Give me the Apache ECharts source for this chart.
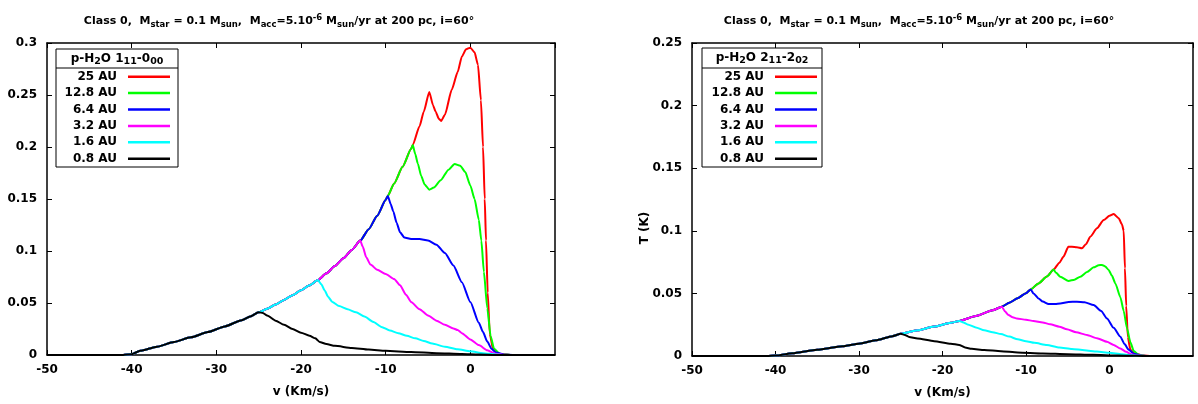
<!DOCTYPE html>
<html>
<head>
<meta charset="utf-8">
<script src="https://cdn.jsdelivr.net/npm/echarts@6/dist/echarts.min.js"></script>
<style>
html,body{margin:0;padding:0;background:#fff;}
#chart{width:1198px;height:404px;}
</style>
</head>
<body>
<div id="chart"></div>
<script>
// ---------- data ----------
const seriesNames = ['25 AU', '12.8 AU', '6.4 AU', '3.2 AU', '1.6 AU', '0.8 AU'];
const seriesColors = ['#ff0000', '#00ff00', '#0000ff', '#ff00ff', '#00ffff', '#000000'];

// Left panel: p-H2O 1_11-0_00, shared rising edge (v in km/s, T in K)
const riseLeft = [[-50,0],[-45,0],[-41,0],[-40,0.0008],[-39,0.004],[-37,0.008],[-35,0.0125],[-33,0.017],[-31,0.022],[-29,0.0275],[-27,0.0335],[-26,0.037],[-25,0.041],[-24,0.0445],[-23,0.0485],[-22,0.053],[-21,0.0575],[-20,0.0622],[-19,0.067],[-18,0.072],[-17,0.0785],[-16,0.0855],[-15,0.093],[-14,0.101],[-13,0.11],[-12,0.121],[-11,0.134],[-10,0.149],[-9.75,0.153],[-9,0.165],[-8,0.181],[-7,0.198],[-6.8,0.202],[-6,0.22],[-5.5,0.234],[-4.85,0.253]];
const peaksLeft = [-4.85, -6.8, -9.75, -13, -18, -25];
const tail25L = [[-4.4,0.24],[-4.1,0.234],[-3.7,0.227],[-3.45,0.225],[-3.0,0.231],[-2.2,0.255],[-1.5,0.272],[-1.0,0.287],[-0.5,0.294],[0,0.2955],[0.5,0.291],[0.9,0.279],[1.25,0.245],[1.5,0.2],[1.7,0.15],[1.85,0.11],[2.05,0.06],[2.3,0.02],[2.7,0.005],[3.5,0.001],[5,0],[10,0]];
const tail12L = [[-6.5,0.193],[-6.2,0.184],[-5.8,0.172],[-5.4,0.164],[-4.85,0.159],[-4.3,0.161],[-3.5,0.168],[-2.6,0.178],[-1.85,0.1837],[-1.2,0.182],[-0.6,0.176],[0,0.163],[0.5,0.15],[1,0.13],[1.3,0.11],[1.6,0.08],[2,0.045],[2.4,0.018],[2.8,0.006],[3.5,0.001],[5,0],[10,0]];
const tail6L = [[-9.4,0.145],[-9.1,0.138],[-8.7,0.127],[-8.3,0.118],[-7.8,0.113],[-7,0.1115],[-6,0.1115],[-5,0.11],[-4,0.106],[-3,0.098],[-2,0.086],[-1,0.07],[0,0.051],[1,0.031],[1.5,0.022],[2,0.013],[2.5,0.006],[3,0.0025],[4,0.0003],[5,0],[10,0]];
const tail3L = [[-12.7,0.104],[-12.3,0.094],[-11.8,0.087],[-11,0.082],[-10,0.078],[-9,0.073],[-8.3,0.067],[-7.6,0.058],[-7,0.051],[-6,0.044],[-5,0.038],[-4,0.033],[-3,0.029],[-2,0.0255],[-1.5,0.024],[-1,0.021],[0,0.015],[1,0.0095],[2,0.0045],[3,0.0012],[4,0.0002],[5,0],[10,0]];
const tail1L = [[-17.6,0.068],[-17.2,0.062],[-16.8,0.056],[-16.3,0.051],[-15.5,0.047],[-14.5,0.044],[-13.5,0.041],[-12.5,0.037],[-11.5,0.032],[-10.5,0.027],[-9.5,0.0235],[-8.5,0.021],[-7.5,0.0185],[-6.5,0.016],[-5.5,0.0135],[-4.5,0.011],[-3,0.008],[-1.5,0.0055],[0,0.0035],[1.5,0.0018],[3,0.0005],[4,0.0001],[5,0],[10,0]];
const tail08L = [[-24.5,0.0405],[-24,0.038],[-23,0.033],[-22,0.029],[-21,0.025],[-20,0.0215],[-19,0.0185],[-18.3,0.016],[-17.8,0.0125],[-17,0.0105],[-16,0.0088],[-14,0.0068],[-12,0.0052],[-10,0.004],[-7,0.0028],[-4,0.0018],[-1,0.001],[1,0.0005],[3,0.0001],[5,0],[10,0]];

// Right panel: p-H2O 2_11-2_02
const riseRight = [[-50,0],[-45,0],[-41,0],[-40,0.0003],[-38,0.0022],[-35,0.005],[-32,0.0078],[-30,0.0098],[-28,0.0125],[-26,0.0158],[-25,0.0177],[-23,0.0205],[-21,0.0235],[-19,0.0265],[-18,0.028],[-16,0.032],[-14,0.0365],[-12.9,0.0394],[-12,0.0425],[-11,0.0462],[-10,0.0502],[-9.44,0.0532],[-8.5,0.058],[-7.5,0.0635],[-6.7,0.069],[-6,0.0745],[-5.5,0.0795],[-4.93,0.0873]];
const peaksRight = [-4.93, -6.7, -9.44, -12.9, -18, -25];
const tail25R = [[-4.5,0.0872],[-3.9,0.0868],[-3.3,0.086],[-2.8,0.0895],[-2.3,0.0953],[-1.5,0.102],[-0.7,0.1086],[0,0.112],[0.5,0.1134],[1.1,0.11],[1.5,0.105],[1.7,0.1],[1.85,0.07],[2.0,0.04],[2.2,0.015],[2.5,0.005],[3,0.002],[4,0.0003],[5,0],[10,0]];
const tail12R = [[-6.4,0.0665],[-5.9,0.0633],[-4.9,0.06],[-4.2,0.061],[-3.5,0.0633],[-2.7,0.067],[-1.9,0.0708],[-1.3,0.0725],[-0.9,0.0727],[-0.5,0.0715],[-0.1,0.0687],[0.3,0.064],[0.7,0.058],[1.3,0.047],[1.7,0.036],[2.1,0.022],[2.5,0.011],[2.9,0.004],[3.5,0.001],[4.5,0],[10,0]];
const tail6R = [[-9.1,0.05],[-8.5,0.046],[-8,0.0435],[-7.3,0.0415],[-6.5,0.0415],[-5.9,0.042],[-4.9,0.0432],[-3.9,0.0434],[-3,0.043],[-1.9,0.0407],[-1,0.036],[-0.3,0.03],[0.5,0.0225],[1.3,0.0154],[1.8,0.0095],[2.3,0.005],[3,0.0015],[4,0.0001],[5,0],[10,0]];
const tail3R = [[-12.5,0.0355],[-12.1,0.0327],[-11.6,0.031],[-11.1,0.03],[-10,0.0289],[-9.1,0.028],[-8,0.0268],[-7.1,0.0253],[-6,0.0234],[-5.1,0.0213],[-4,0.019],[-2.7,0.0168],[-1.5,0.0142],[-0.3,0.0114],[0.5,0.0088],[1.3,0.006],[2,0.0033],[2.6,0.0013],[3.3,0.0003],[4.5,0],[10,0]];
const tail1R = [[-17.5,0.0268],[-17,0.0252],[-16,0.0228],[-15,0.0205],[-14,0.019],[-13,0.0175],[-12,0.0155],[-11,0.0133],[-10,0.0118],[-9,0.0105],[-7.5,0.0088],[-6,0.0068],[-4.5,0.0056],[-3,0.0046],[-1.5,0.0035],[0,0.0026],[1.5,0.0013],[2.5,0.0006],[3.5,0.0001],[5,0],[10,0]];
const tail08R = [[-24.5,0.0168],[-24,0.0152],[-23,0.014],[-21,0.0118],[-19,0.0098],[-18,0.0088],[-17.3,0.0068],[-16.5,0.0057],[-15,0.0048],[-13,0.0038],[-11,0.0028],[-8,0.002],[-5,0.0014],[-2,0.0009],[1,0.0004],[3,0.0001],[5,0],[10,0]];

const tailsLeft = [tail25L, tail12L, tail6L, tail3L, tail1L, tail08L];
const tailsRight = [tail25R, tail12R, tail6R, tail3R, tail1R, tail08R];

const xMin = -50, xMax = 10, xStep = 10;
const yMaxLeft = 0.3, yMaxRight = 0.25, yStep = 0.05;

// ---------- chart ----------
const FONT = '"DejaVu Sans", Verdana, sans-serif';
function build(rise, peak, tail) {
  return rise.filter(p => p[0] <= peak).concat(tail);
}
const titleRich = {
  n: {fontSize: 11, fontWeight: 'bold', fontFamily: FONT, color: '#000', lineHeight: 16},
  sub: {fontSize: 8.5, fontWeight: 'bold', fontFamily: FONT, color: '#000', lineHeight: 8, verticalAlign: 'bottom'},
  sup: {fontSize: 8.5, fontWeight: 'bold', fontFamily: FONT, color: '#000', lineHeight: 8, verticalAlign: 'top'}
};
const titleText = '{n|Class 0,  M}{sub|star}{n| = 0.1 M}{sub|sun}{n|,  M}{sub|acc}{n|=5.10}{sup|-6}{n| M}{sub|sun}{n|/yr at 200 pc, i=60°}';

const grids = [
  {left: 47, top: 43, width: 508, height: 312},
  {left: 692, top: 43, width: 501, height: 313}
];

const axisLineStyle = {color: '#000', width: 1.5};
const labelStyle = {color: '#000', fontSize: 12, fontWeight: 'bold', fontFamily: FONT};
const nameStyle = {color: '#000', fontSize: 12, fontWeight: 'bold', fontFamily: FONT};

const xAxes = [], yAxes = [];
[0, 1].forEach(g => {
  xAxes.push({
    type: 'value', gridIndex: g, position: 'bottom', min: xMin, max: xMax, interval: xStep,
    axisLine: {lineStyle: axisLineStyle, onZero: false},
    axisTick: {inside: true, length: 5, lineStyle: {color: '#000', width: 1}},
    axisLabel: Object.assign({margin: 9, showMaxLabel: false}, labelStyle),
    splitLine: {show: false},
    name: 'v (Km/s)', nameLocation: 'middle', nameGap: 31,
    nameTextStyle: nameStyle
  });
  xAxes.push({
    type: 'value', gridIndex: g, position: 'top', min: xMin, max: xMax, interval: xStep,
    axisLine: {lineStyle: axisLineStyle, onZero: false},
    axisTick: {inside: true, length: 5, lineStyle: {color: '#000', width: 1}},
    axisLabel: {show: false}, splitLine: {show: false}
  });
  const ymax = g === 0 ? yMaxLeft : yMaxRight;
  yAxes.push({
    type: 'value', gridIndex: g, position: 'left', min: 0, max: ymax, interval: yStep,
    axisLine: {show: true, lineStyle: axisLineStyle, onZero: false},
    axisTick: {show: true, inside: true, length: 5, lineStyle: {color: '#000', width: 1}},
    axisLabel: Object.assign({margin: 10}, labelStyle),
    splitLine: {show: false}
  });
  yAxes.push({
    type: 'value', gridIndex: g, position: 'right', min: 0, max: ymax, interval: yStep,
    axisLine: {show: true, lineStyle: axisLineStyle, onZero: false},
    axisTick: {show: true, inside: true, length: 5, lineStyle: {color: '#000', width: 1}},
    axisLabel: {show: false}, splitLine: {show: false}
  });
});

const series = [];
[0, 1].forEach(g => {
  const rise = g === 0 ? riseLeft : riseRight;
  const peaks = g === 0 ? peaksLeft : peaksRight;
  const tails = g === 0 ? tailsLeft : tailsRight;
  seriesNames.forEach((name, i) => {
    series.push({
      type: 'line', name: name, xAxisIndex: g * 2, yAxisIndex: g * 2,
      data: build(rise, peaks[i], tails[i]),
      showSymbol: false, symbol: 'none',
      smooth: 0.2, smoothMonotone: 'x',
      lineStyle: {color: seriesColors[i], width: 2},
      itemStyle: {color: seriesColors[i]},
      z: 2 + i
    });
  });
});

const legendCommon = {
  orient: 'vertical', align: 'right', icon: 'rect',
  itemWidth: 42, itemHeight: 2.5, itemGap: 2.4, padding: 0,
  data: seriesNames, selectedMode: false,
  textStyle: {color: '#000', fontSize: 12, fontWeight: 'bold', fontFamily: FONT, lineHeight: 14, padding: [0, 6, 0, 0]}
};

const headerRich = {
  n: {fontSize: 12, fontWeight: 'bold', fontFamily: FONT, fill: '#000', lineHeight: 16},
  s: {fontSize: 9.5, fontWeight: 'bold', fontFamily: FONT, fill: '#000', lineHeight: 9, verticalAlign: 'bottom'}
};

const option = {
  animation: false,
  backgroundColor: '#fff',
  title: [
    {text: titleText, left: 274, top: 8, textAlign: 'center', textStyle: {rich: titleRich}},
    {text: titleText, left: 914, top: 8, textAlign: 'center', textStyle: {rich: titleRich}}
  ],
  grid: grids,
  xAxis: xAxes,
  yAxis: yAxes,
  legend: [
    Object.assign({right: 1198 - 170, top: 69.7}, legendCommon),
    Object.assign({right: 1198 - 817, top: 69.7}, legendCommon)
  ],
  graphic: [
    {type: 'rect', shape: {x: 56, y: 49, width: 122, height: 118}, style: {fill: 'none', stroke: '#000', lineWidth: 1}, z: 10},
    {type: 'line', shape: {x1: 56, y1: 68, x2: 178, y2: 68}, style: {stroke: '#000', lineWidth: 1}, z: 10},
    {type: 'text', x: 117, y: 58.5, z: 10, style: {text: '{n|p-H}{s|2}{n|O 1}{s|11}{n|-0}{s|00}', rich: headerRich, align: 'center', verticalAlign: 'middle'}},
    {type: 'rect', shape: {x: 702, y: 48, width: 120, height: 119}, style: {fill: 'none', stroke: '#000', lineWidth: 1}, z: 10},
    {type: 'line', shape: {x1: 702, y1: 68, x2: 822, y2: 68}, style: {stroke: '#000', lineWidth: 1}, z: 10},
    {type: 'text', x: 762, y: 58, z: 10, style: {text: '{n|p-H}{s|2}{n|O 2}{s|11}{n|-2}{s|02}', rich: headerRich, align: 'center', verticalAlign: 'middle'}},
    {type: 'text', x: 645, y: 228, rotation: Math.PI / 2, z: 10, style: {text: 'T (K)', font: 'bold 12px "DejaVu Sans"', fill: '#000', align: 'center', verticalAlign: 'middle'}}
  ],
  series: series
};

const chart = echarts.init(document.getElementById('chart'), null, {renderer: 'canvas'});
chart.setOption(option);
</script>
</body>
</html>
